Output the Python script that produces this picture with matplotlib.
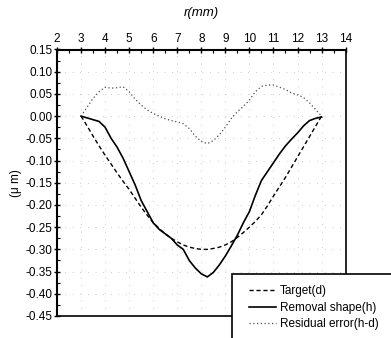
import numpy as np
import matplotlib
matplotlib.use("Agg")
import matplotlib.pyplot as plt
from matplotlib.patches import Rectangle
from matplotlib.ticker import MultipleLocator

plt.rcParams['font.family'] = ['Liberation Sans', 'DejaVu Sans']

# radius (mm)
r = [3.0, 3.25, 3.5, 3.75, 4.0, 4.25, 4.5, 4.75, 5.0, 5.25, 5.5, 5.75, 6.0, 6.25,
     6.5, 6.75, 7.0, 7.25, 7.5, 7.75, 8.0, 8.25, 8.5, 8.75, 9.0, 9.25, 9.5, 9.75,
     10.0, 10.25, 10.5, 10.75, 11.0, 11.25, 11.5, 11.75, 12.0, 12.25, 12.5, 12.75, 13.0]

target_d = [0.0, -0.022, -0.045, -0.067, -0.088, -0.108, -0.128, -0.147, -0.165, -0.185,
            -0.205, -0.223, -0.240, -0.253, -0.265, -0.275, -0.283, -0.290, -0.295, -0.298,
            -0.300, -0.300, -0.298, -0.295, -0.290, -0.283, -0.273, -0.262, -0.250, -0.237,
            -0.222, -0.202, -0.180, -0.159, -0.138, -0.115, -0.092, -0.069, -0.046, -0.023, 0.0]

removal_h = [0.0, -0.004, -0.008, -0.012, -0.025, -0.050, -0.070, -0.095, -0.125, -0.155,
             -0.190, -0.215, -0.240, -0.255, -0.265, -0.275, -0.290, -0.300, -0.325, -0.342,
             -0.355, -0.362, -0.352, -0.335, -0.315, -0.292, -0.268, -0.240, -0.215, -0.178,
             -0.145, -0.125, -0.105, -0.085, -0.067, -0.052, -0.038, -0.022, -0.010, -0.005, -0.002]

residual = [0.0, 0.020, 0.040, 0.055, 0.065, 0.063, 0.064, 0.066, 0.055, 0.038,
            0.025, 0.014, 0.006, 0.0, -0.006, -0.010, -0.013, -0.017, -0.028, -0.045,
            -0.057, -0.062, -0.055, -0.042, -0.025, -0.005, 0.010, 0.022, 0.036, 0.055,
            0.067, 0.070, 0.070, 0.065, 0.060, 0.052, 0.048, 0.042, 0.030, 0.015, 0.0]

W, H = 391, 338
fig = plt.figure(figsize=(W / 100, H / 100), dpi=100)
ax = fig.add_axes([57 / W, 1 - 316 / H, (345.6 - 57) / W, (316 - 49.5) / H])

l1, = ax.plot(r, target_d, color='black', lw=1.0, ls=(0, (3, 2)), label='Target(d)')
l2, = ax.plot(r, removal_h, color='black', lw=1.2, ls='-', label='Removal shape(h)')
l3, = ax.plot(r, residual, color='0.3', lw=0.9, ls=(0, (1, 2)), label='Residual error(h-d)')

ax.set_xlim(2, 14)
ax.set_ylim(-0.45, 0.15)
ax.xaxis.tick_top()
ax.xaxis.set_label_position('top')
ax.xaxis.set_major_locator(MultipleLocator(1))
ax.xaxis.set_minor_locator(MultipleLocator(0.5))
ax.yaxis.set_major_locator(MultipleLocator(0.05))
ax.yaxis.set_minor_locator(MultipleLocator(0.025))
ax.yaxis.set_major_formatter(matplotlib.ticker.FormatStrFormatter('%.2f'))
ax.tick_params(which='major', direction='inout', length=5, width=1.0, labelsize=8.5, pad=1)
ax.tick_params(which='minor', direction='in', length=2, width=0.8)
ax.set_xlabel('r(mm)', fontsize=9.5, fontstyle='italic', labelpad=12)
ax.set_ylabel('(μ m)', fontsize=8.5, labelpad=2)

ax.grid(True, which='major', color='0.6', lw=0.5, ls=(0, (1, 10)))
ax.spines['left'].set_linewidth(1.5)
ax.spines['top'].set_linewidth(1.5)
ax.spines['right'].set_linewidth(1.2)
ax.spines['bottom'].set_linewidth(1.2)

box = Rectangle((232 / W, -0.05), 0.5, (1 - 274 / H) + 0.05, transform=fig.transFigure,
                facecolor='white', edgecolor='black', lw=1.2, zorder=5)
fig.patches.append(box)

leg = fig.legend(handles=[l1, l2, l3], loc='upper left', bbox_to_anchor=(249 / W, 1 - 285 / H),
                 frameon=False, fontsize=8.5, handlelength=2.3, handletextpad=0.3,
                 labelspacing=0.4, borderpad=0, borderaxespad=0)
leg.set_zorder(6)

fig.savefig('out.png', dpi=100)
